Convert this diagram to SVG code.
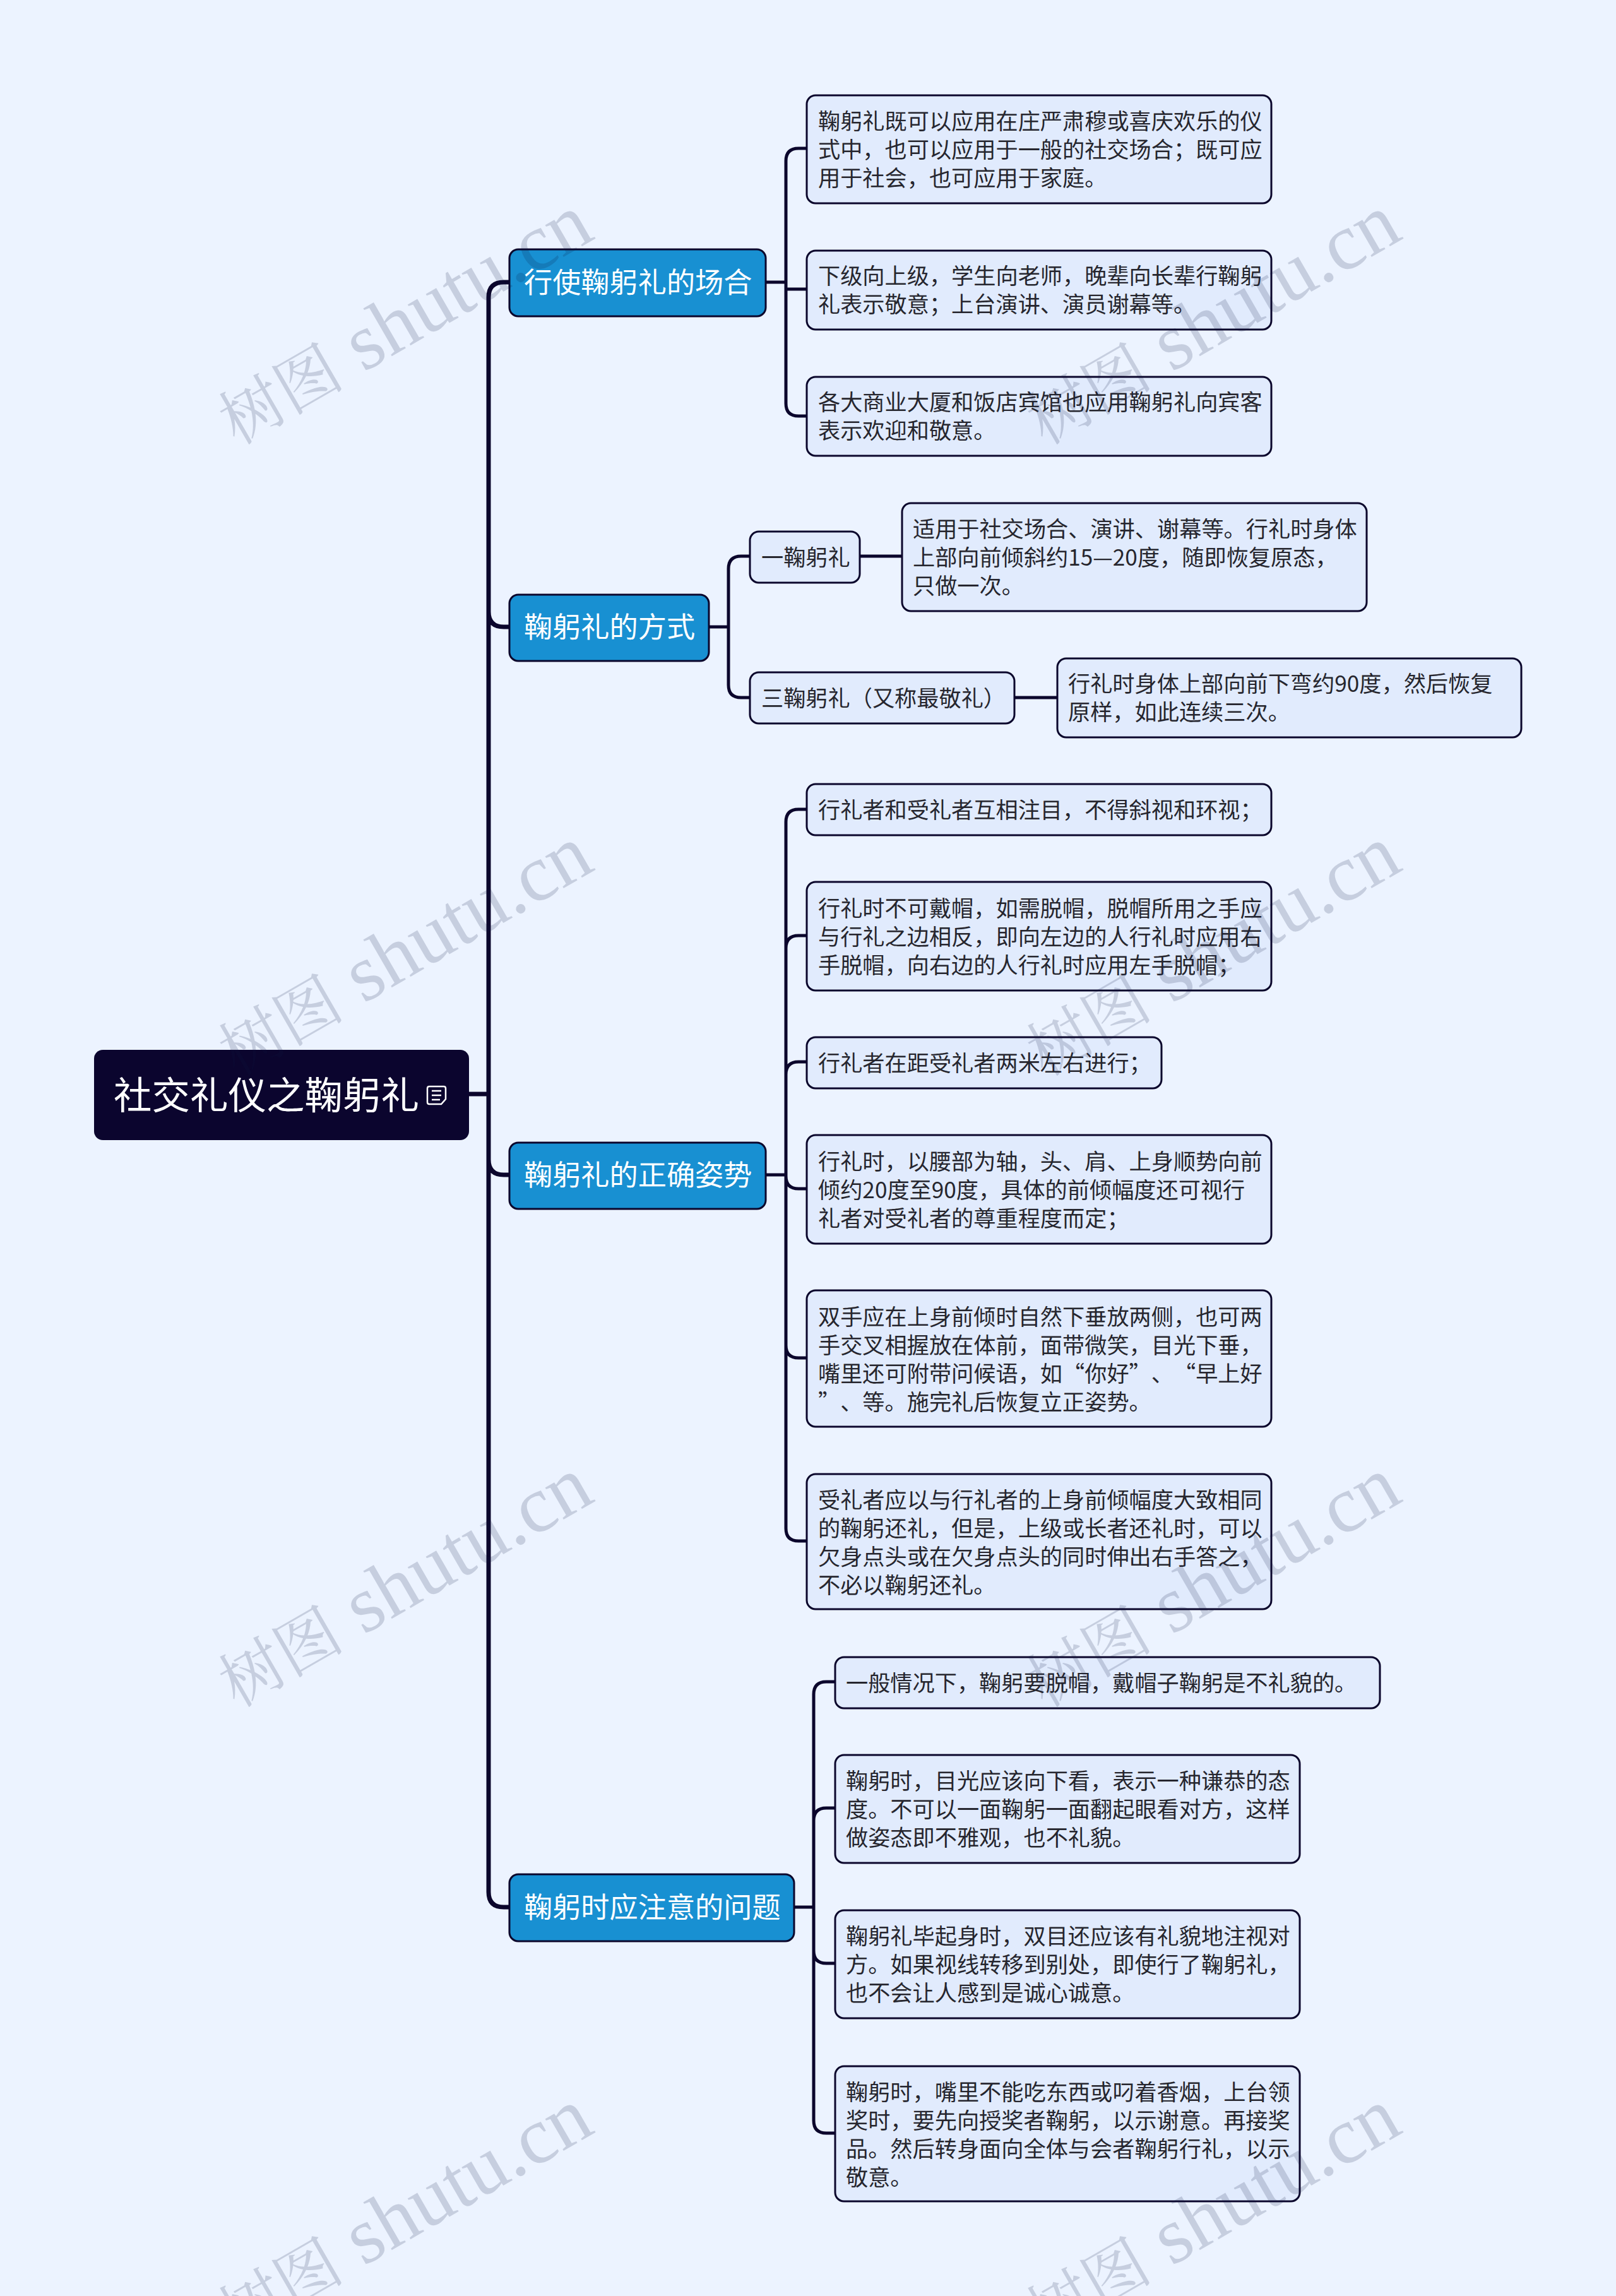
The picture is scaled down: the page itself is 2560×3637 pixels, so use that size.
<svg xmlns="http://www.w3.org/2000/svg" width="2560" height="3637" viewBox="0 0 2560 3637">
<style>
text{font-family:"Noto Sans CJK SC","Noto Sans",sans-serif;text-spacing-trim:space-all}
.leaf rect{fill:#e1ebfd;stroke:#0b062c;stroke-width:3}
.leaf text{font-size:35.2px;fill:#26262e}
.main rect{fill:#1890d2;stroke:#0b062c;stroke-width:3}
.main text{font-size:45.2px;fill:#fff}
.c1{fill:none;stroke:#0b062c;stroke-width:7}
.c2{fill:none;stroke:#0b062c;stroke-width:5}
.wm text{font-family:"Liberation Serif","Noto Serif CJK SC","Noto Sans CJK SC",serif;font-size:127px;fill:#0a1a40;fill-opacity:.17}
.wm .cjk{font-size:100px}
</style>
<rect width="2560" height="3637" fill="#ecf3ff"/>
<g id="connectors">
<path class="c1" d="M743 1733H774M806 447H798Q774 447 774 471V2997Q774 3021 798 3021H806M774 969Q774 993 798 993H806M774 1837Q774 1861 798 1861H806"/>
<path class="c2" d="M1212 447H1245M1277 235H1265Q1245 235 1245 255V639Q1245 659 1265 659H1277M1245 458H1277"/>
<path class="c2" d="M1122 993H1154M1187 881H1174Q1154 881 1154 901V1085Q1154 1105 1174 1105H1187M1361 881H1428M1606 1105H1674"/>
<path class="c2" d="M1212 1861H1245M1277 1282H1265Q1245 1282 1245 1302V2421Q1245 2441 1265 2441H1277M1277 1482H1265Q1245 1482 1245 1502M1277 1682H1265Q1245 1682 1245 1702M1277 1883H1265Q1245 1883 1245 1863M1277 2151H1265Q1245 2151 1245 2131"/>
<path class="c2" d="M1257 3021H1289M1322 2664H1309Q1289 2664 1289 2684V3359Q1289 3379 1309 3379H1322M1322 2864H1309Q1289 2864 1289 2884M1322 3110H1309Q1289 3110 1289 3090"/>
</g>
<g id="root">
<rect x="149" y="1663" width="594" height="143" rx="14" fill="#0b052e"/>
<text x="180" y="1757" font-size="60.5" fill="#fff">社交礼仪之鞠躬礼</text>
<path d="M680 1721H703Q706 1721 706 1724V1741L699 1749H680Q677 1749 677 1746V1724Q677 1721 680 1721ZM684 1728H699M684 1735H699M684 1742H697" fill="none" stroke="#fff" stroke-width="2.5"/>
</g>
<g id="n1" class="main"><rect x="807" y="395" width="406" height="106" rx="14"/><text x="830" y="464">行使鞠躬礼的场合</text></g>
<g id="n2" class="main"><rect x="807" y="942" width="316" height="105" rx="14"/><text x="830" y="1010">鞠躬礼的方式</text></g>
<g id="n3" class="main"><rect x="807" y="1810" width="406" height="105" rx="14"/><text x="830" y="1878">鞠躬礼的正确姿势</text></g>
<g id="n4" class="main"><rect x="807" y="2969" width="451" height="106" rx="14"/><text x="830" y="3038">鞠躬时应注意的问题</text></g>

<g id="l1" class="leaf"><rect x="1278" y="151" width="736" height="171" rx="14"/><text x="1296" y="205">鞠躬礼既可以应用在庄严肃穆或喜庆欢乐的仪</text><text x="1296" y="250">式中，也可以应用于一般的社交场合；既可应</text><text x="1296" y="295">用于社会，也可应用于家庭。</text></g>
<g id="l2" class="leaf"><rect x="1278" y="397" width="736" height="125" rx="14"/><text x="1296" y="450">下级向上级，学生向老师，晚辈向长辈行鞠躬</text><text x="1296" y="495">礼表示敬意；上台演讲、演员谢幕等。</text></g>
<g id="l3" class="leaf"><rect x="1278" y="597" width="736" height="125" rx="14"/><text x="1296" y="650">各大商业大厦和饭店宾馆也应用鞠躬礼向宾客</text><text x="1296" y="695">表示欢迎和敬意。</text></g>
<g id="l4" class="leaf"><rect x="1188" y="842" width="174" height="81" rx="14"/><text x="1206" y="896">一鞠躬礼</text></g>
<g id="l5" class="leaf"><rect x="1429" y="797" width="736" height="171" rx="14"/><text x="1446" y="851">适用于社交场合、演讲、谢幕等。行礼时身体</text><text x="1446" y="896">上部向前倾斜约15—20度，随即恢复原态，</text><text x="1446" y="941">只做一次。</text></g>
<g id="l6" class="leaf"><rect x="1188" y="1065" width="419" height="81" rx="14"/><text x="1206" y="1119">三鞠躬礼（又称最敬礼）</text></g>
<g id="l7" class="leaf"><rect x="1675" y="1043" width="735" height="125" rx="14"/><text x="1692" y="1096">行礼时身体上部向前下弯约90度，然后恢复</text><text x="1692" y="1141">原样，如此连续三次。</text></g>

<g id="l8" class="leaf"><rect x="1278" y="1242" width="736" height="81" rx="14"/><text x="1296" y="1296">行礼者和受礼者互相注目，不得斜视和环视；</text></g>
<g id="l9" class="leaf"><rect x="1278" y="1397" width="736" height="172" rx="14"/><text x="1296" y="1452">行礼时不可戴帽，如需脱帽，脱帽所用之手应</text><text x="1296" y="1497">与行礼之边相反，即向左边的人行礼时应用右</text><text x="1296" y="1542">手脱帽，向右边的人行礼时应用左手脱帽；</text></g>
<g id="l10" class="leaf"><rect x="1278" y="1643" width="562" height="81" rx="14"/><text x="1296" y="1697">行礼者在距受礼者两米左右进行；</text></g>
<g id="l11" class="leaf"><rect x="1278" y="1798" width="736" height="172" rx="14"/><text x="1296" y="1853">行礼时，以腰部为轴，头、肩、上身顺势向前</text><text x="1296" y="1898">倾约20度至90度，具体的前倾幅度还可视行</text><text x="1296" y="1943">礼者对受礼者的尊重程度而定；</text></g>
<g id="l12" class="leaf"><rect x="1278" y="2044" width="736" height="216" rx="14"/><text x="1296" y="2099">双手应在上身前倾时自然下垂放两侧，也可两</text><text x="1296" y="2144">手交叉相握放在体前，面带微笑，目光下垂，</text><text x="1296" y="2189">嘴里还可附带问候语，如“你好”、“早上好</text><text x="1296" y="2234">”、等。施完礼后恢复立正姿势。</text></g>
<g id="l13" class="leaf"><rect x="1278" y="2335" width="736" height="214" rx="14"/><text x="1296" y="2389">受礼者应以与行礼者的上身前倾幅度大致相同</text><text x="1296" y="2434">的鞠躬还礼，但是，上级或长者还礼时，可以</text><text x="1296" y="2479">欠身点头或在欠身点头的同时伸出右手答之，</text><text x="1296" y="2524">不必以鞠躬还礼。</text></g>

<g id="l14" class="leaf"><rect x="1323" y="2625" width="863" height="81" rx="14"/><text x="1340" y="2679">一般情况下，鞠躬要脱帽，戴帽子鞠躬是不礼貌的。</text></g>
<g id="l15" class="leaf"><rect x="1323" y="2780" width="736" height="171" rx="14"/><text x="1340" y="2834">鞠躬时，目光应该向下看，表示一种谦恭的态</text><text x="1340" y="2879">度。不可以一面鞠躬一面翻起眼看对方，这样</text><text x="1340" y="2924">做姿态即不雅观，也不礼貌。</text></g>
<g id="l16" class="leaf"><rect x="1323" y="3026" width="736" height="171" rx="14"/><text x="1340" y="3080">鞠躬礼毕起身时，双目还应该有礼貌地注视对</text><text x="1340" y="3125">方。如果视线转移到别处，即使行了鞠躬礼，</text><text x="1340" y="3170">也不会让人感到是诚心诚意。</text></g>
<g id="l17" class="leaf"><rect x="1323" y="3273" width="736" height="214" rx="14"/><text x="1340" y="3327">鞠躬时，嘴里不能吃东西或叼着香烟，上台领</text><text x="1340" y="3372">奖时，要先向授奖者鞠躬，以示谢意。再接奖</text><text x="1340" y="3417">品。然后转身面向全体与会者鞠躬行礼，以示</text><text x="1340" y="3462">敬意。</text></g>

<g id="watermarks" class="wm">
<text transform="translate(375 706) rotate(-30)"><tspan class="cjk">树图</tspan> shutu.cn</text>
<text transform="translate(1655 706) rotate(-30)"><tspan class="cjk">树图</tspan> shutu.cn</text>
<text transform="translate(375 1706) rotate(-30)"><tspan class="cjk">树图</tspan> shutu.cn</text>
<text transform="translate(1655 1706) rotate(-30)"><tspan class="cjk">树图</tspan> shutu.cn</text>
<text transform="translate(375 2706) rotate(-30)"><tspan class="cjk">树图</tspan> shutu.cn</text>
<text transform="translate(1655 2706) rotate(-30)"><tspan class="cjk">树图</tspan> shutu.cn</text>
<text transform="translate(375 3706) rotate(-30)"><tspan class="cjk">树图</tspan> shutu.cn</text>
<text transform="translate(1655 3706) rotate(-30)"><tspan class="cjk">树图</tspan> shutu.cn</text>
</g>
</svg>
